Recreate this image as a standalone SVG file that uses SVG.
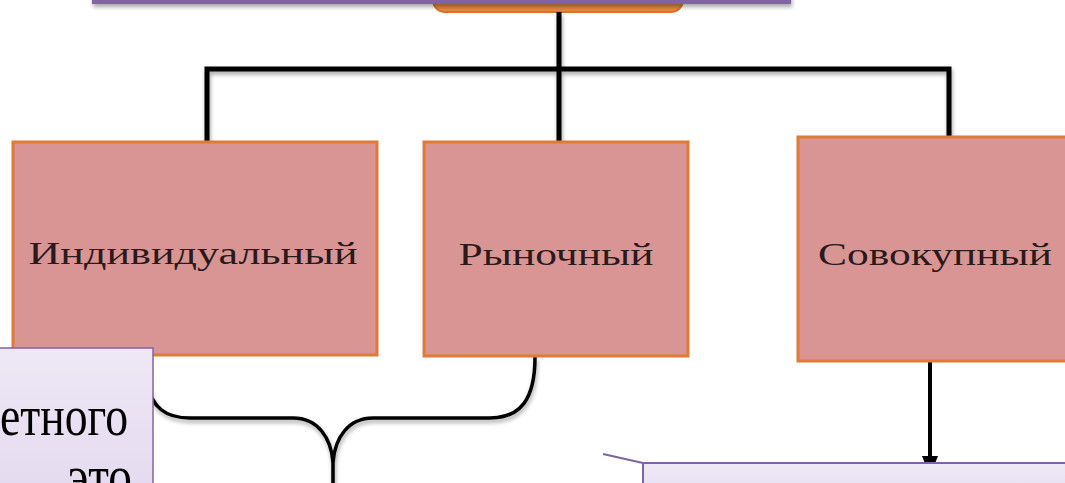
<svg xmlns="http://www.w3.org/2000/svg" width="1065" height="483" viewBox="0 0 1065 483">
  <style>
    .kind rect { fill: #D99594; stroke: #E07A36; stroke-width: 3; }
    .kind text { font-family: "Liberation Serif", "Times New Roman", serif; font-size: 32px; fill: #2B1A1C; text-anchor: middle; }
    .wire { fill: none; stroke: #000; stroke-linecap: butt; stroke-linejoin: miter; }
    .note { fill: url(#noteFill); stroke: #8064A2; }
    .note-text { font-family: "Liberation Serif", "Times New Roman", serif; font-size: 56px; fill: #000; }
  </style>
  <defs>
    <linearGradient id="noteFill" x1="0" y1="0" x2="0" y2="1">
      <stop offset="0" stop-color="#EEE8F6"/>
      <stop offset="1" stop-color="#E3D9EF"/>
    </linearGradient>
    <linearGradient id="rootFill" x1="0" y1="0" x2="0" y2="1">
      <stop offset="0" stop-color="#C98A5A"/>
      <stop offset="1" stop-color="#E58A3E"/>
    </linearGradient>
    <filter id="soft" x="-10%" y="-20%" width="120%" height="160%">
      <feGaussianBlur in="SourceAlpha" stdDeviation="2"/>
      <feOffset dx="1" dy="3" result="b"/>
      <feComponentTransfer><feFuncA type="linear" slope="0.35"/></feComponentTransfer>
      <feMerge><feMergeNode/><feMergeNode in="SourceGraphic"/></feMerge>
    </filter>
    <marker id="head" viewBox="0 0 20 16" refX="18" refY="8" markerWidth="5" markerHeight="4" orient="auto">
      <path d="M0,0 L20,8 L0,16 Z" fill="#000"/>
    </marker>
  </defs>

  <rect width="1065" height="483" fill="#FFFFFF"/>

  <!-- root node, mostly outside the top edge -->
  <g id="root">
    <rect x="433" y="-40" width="250" height="52" rx="12" fill="url(#rootFill)" stroke="#E0702A" stroke-width="2"/>
  </g>

  <!-- title banner above the root -->
  <g id="banner" filter="url(#soft)">
    <rect x="92" y="-40" width="699" height="44" fill="#8064A2"/>
  </g>

  <!-- connectors -->
  <g id="connectors">
    <g filter="url(#soft)">
      <path class="wire" stroke-width="5" d="M559,12 V143"/>
      <path class="wire" stroke-width="5" d="M207,143 V69 H949 V140"/>
      <!-- curly brace joining the first two kinds -->
      <path class="wire" stroke-width="3.5" d="M146,382 C152,408 166,418 190,418 L293,418 C318,418 331,438 333,462 L333,490"/>
      <path class="wire" stroke-width="3.5" d="M333,462 C335,438 348,418 373,418 L490,418 C520,418 535,400 535,357"/>
    </g>
    <path class="wire" stroke-width="4" d="M930,361 V474" marker-end="url(#head)"/>
  </g>

  <g id="individual" class="kind">
    <rect x="13" y="142" width="364" height="213"/>
    <text x="193" y="264" textLength="329" lengthAdjust="spacingAndGlyphs">Индивидуальный</text>
  </g>

  <g id="market" class="kind">
    <rect x="424" y="142" width="264" height="214"/>
    <text x="556" y="265" textLength="195" lengthAdjust="spacingAndGlyphs">Рыночный</text>
  </g>

  <g id="aggregate" class="kind">
    <rect x="798" y="137" width="280" height="224"/>
    <text x="935" y="265" textLength="234" lengthAdjust="spacingAndGlyphs">Совокупный</text>
  </g>

  <!-- explanatory note, lower left -->
  <g id="note-left">
    <rect class="note" x="-10" y="348" width="163" height="160" stroke-width="1.5"/>
    <text class="note-text" x="128" y="435" text-anchor="end" textLength="128" lengthAdjust="spacingAndGlyphs">етного</text>
    <text class="note-text" x="132" y="495" text-anchor="end" textLength="64" lengthAdjust="spacingAndGlyphs">это</text>
  </g>

  <!-- callout note, lower right -->
  <g id="note-right">
    <line x1="603" y1="454" x2="643" y2="463" stroke="#8064A2" stroke-width="2"/>
    <rect class="note" x="643" y="463" width="440" height="60" stroke-width="2"/>
  </g>
</svg>
